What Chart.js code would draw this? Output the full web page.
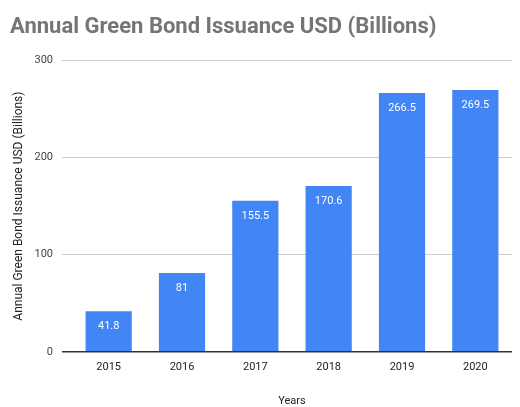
<!DOCTYPE html>
<html>
<head>
<meta charset="utf-8">
<script src="https://cdn.jsdelivr.net/npm/chart.js@4.4.1/dist/chart.umd.min.js"></script>
<style>
  html, body { margin: 0; padding: 0; background: #fff; }
  #wrap { width: 520px; height: 407px; }
</style>
</head>
<body>
<div id="wrap"><canvas id="bonds" width="520" height="407"></canvas></div>
<script>
const years = ["2015", "2016", "2017", "2018", "2019", "2020"];
const issuance = [41.8, 81, 155.5, 170.6, 266.5, 269.5];
const yTicks = [0, 100, 200, 300];

// white value labels drawn just inside the top of each bar
const barLabels = {
    id: "barLabels",
    afterDatasetsDraw(chart) {
        const ctx = chart.ctx;
        const meta = chart.getDatasetMeta(0);
        ctx.save();
        ctx.fillStyle = "#ffffff";
        ctx.font = "11px Roboto";
        ctx.textAlign = "center";
        ctx.textBaseline = "middle";
        meta.data.forEach((bar, i) => {
            ctx.fillText(String(issuance[i]), bar.x, bar.y + 15);
        });
        ctx.restore();
    }
};

const bondsData = {
    labels: years,
    datasets: [{
        data: issuance,
        backgroundColor: "#4285f4",
        borderWidth: 0,
        barPercentage: 0.63,
        categoryPercentage: 1
    }]
};

const bondsConfig = {
    type: "bar",
    data: bondsData,
    plugins: [barLabels],
    options: {
        responsive: false,
        animation: false,
        layout: {
            padding: { left: 10, right: 8, top: 0, bottom: 0 }
        },
        plugins: {
            legend: { display: false },
            tooltip: { enabled: false },
            title: {
                display: true,
                text: "Annual Green Bond Issuance USD (Billions)",
                align: "start",
                color: "#757575",
                font: { family: "Roboto", size: 22, weight: "bold" },
                padding: { top: 14, bottom: 20 }
            }
        },
        scales: {
            x: {
                grid: { display: false },
                border: { display: false },
                ticks: {
                    color: "#222222",
                    font: { family: "Roboto", size: 11 },
                    padding: 1
                },
                title: {
                    display: true,
                    text: "Years",
                    color: "#222222",
                    font: { family: "Roboto", size: 11, lineHeight: 1 },
                    padding: { top: 21, bottom: 0 }
                }
            },
            y: {
                min: 0,
                max: 300,
                afterBuildTicks(scale) {
                    scale.ticks = yTicks.map(v => ({ value: v }));
                },
                afterFit(scale) {
                    scale.width = 62;
                },
                border: { display: false },
                grid: {
                    color: c => (c.tick && c.tick.value === 0 ? "#333333" : "#cccccc"),
                    lineWidth: c => (c.tick && c.tick.value === 0 ? 1.5 : 1),
                    tickLength: 10
                },
                ticks: {
                    color: "#444444",
                    font: { family: "Roboto", size: 11 },
                    padding: 9
                },
                title: {
                    display: true,
                    text: "Annual Green Bond Issuance USD (Billions)",
                    color: "#222222",
                    font: { family: "Roboto", size: 12 },
                    padding: { top: 2, bottom: 0 }
                }
            }
        }
    }
};

const bondsChart = new Chart(document.getElementById("bonds").getContext("2d"), bondsConfig);
</script>
</body>
</html>
